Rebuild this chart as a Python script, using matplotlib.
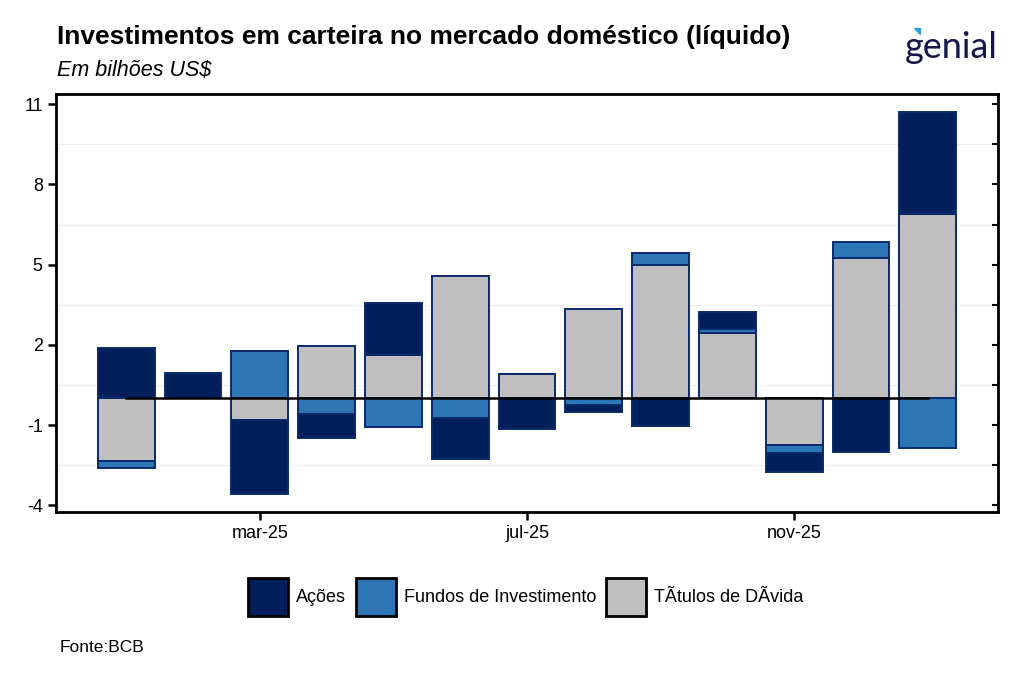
import numpy as np
import matplotlib.pyplot as plt
from matplotlib.patches import Patch, Polygon

# data (US$ bi)
months = ["jan-25", "fev-25", "mar-25", "abr-25", "mai-25", "jun-25", "jul-25",
          "ago-25", "set-25", "out-25", "nov-25", "dez-25", "jan-26"]
acoes = [1.87, 0.95, -2.78, -0.89, 1.97, -1.55, -1.15, -0.25, -1.04, 0.66, -0.74, -2.00, 3.83]
fundos = [-0.25, 0.00, 1.78, -0.60, -1.06, -0.72, 0.00, -0.26, 0.43, 0.15, -0.28, 0.59, -1.86]
titulos = [-2.35, 0.00, -0.81, 1.96, 1.61, 4.58, 0.91, 3.34, 4.99, 2.43, -1.75, 5.26, 6.88]
tick_pos = [2, 6, 10]
tick_labels = ["mar-25", "jul-25", "nov-25"]

series = [("TÃtulos de DÃvida", titulos, "#BFBFBF"),
          ("Fundos de Investimento", fundos, "#2E75B6"),
          ("Ações", acoes, "#001F5B")]
edge = "#0A2A6E"

plt.rcParams['font.family'] = ['Liberation Sans', 'DejaVu Sans']
plt.rcParams['axes.unicode_minus'] = False

fig = plt.figure(figsize=(10.24, 6.82), dpi=100)
ax = fig.add_axes([56 / 1024, 1 - 512 / 682, 942 / 1024, 418 / 682])

x = np.arange(len(months))
pos_base = np.zeros(len(x))
neg_base = np.zeros(len(x))
# stack: titulos closest to zero, then fundos, then acoes
for name, vals, color in series:
    v = np.array(vals)
    base = np.where(v >= 0, pos_base, neg_base)
    ax.bar(x, v, bottom=base, width=0.85, color=color, edgecolor=edge,
           linewidth=1.4, zorder=3)
    pos_base += np.where(v > 0, v, 0)
    neg_base += np.where(v < 0, v, 0)

ax.plot([x[0], x[-1]], [0, 0], color="black", lw=1.8, zorder=4)

ax.set_xlim(-1.05, 13.05)
ax.set_ylim(-4.25, 11.38)
ax.set_yticks([-4, -1, 2, 5, 8, 11])
ax.set_yticks(np.arange(-2.5, 11, 3), minor=True)
ax.grid(axis='y', which='minor', color="#EFEFEF", lw=0.8, zorder=0)
ax.set_xticks(tick_pos)
ax.set_xticklabels(tick_labels)
ax.tick_params(axis='both', labelsize=13, width=1.8, length=6, color="black")
ax.tick_params(axis='y', which='minor', length=0)
for s in ax.spines.values():
    s.set_linewidth(2)

# small ticks inside right border
ax2 = ax.twinx()
ax2.set_ylim(ax.get_ylim())
ax2.set_yticks(np.arange(-4, 11.5, 1.5))
ax2.set_yticklabels([])
ax2.tick_params(axis='y', direction='in', length=4, width=1.5)

handles = [Patch(facecolor=c, edgecolor="black", linewidth=2, label=n)
           for n, _, c in series[::-1]]
fig.legend(handles=handles, loc='center', bbox_to_anchor=(526 / 1024, 1 - 597 / 682),
           ncol=3, frameon=False, fontsize=13, handlelength=2.2, handleheight=2.9,
           columnspacing=0.55, handletextpad=0.45)

fig.text(57 / 1024, 1 - 37 / 682, "Investimentos em carteira no mercado doméstico (líquido)",
         fontsize=19, fontweight='bold', va='center')
fig.text(57 / 1024, 1 - 71 / 682, "Em bilhões US$", fontsize=15.5, style='italic', va='center')
fig.text(60 / 1024, 1 - 648 / 682, "Fonte:BCB", fontsize=12.5, va='center')
fig.text(951 / 1024, 1 - 47 / 682, "genial", fontsize=26, color="#15174A",
         ha='center', va='center', family=['Lato', 'DejaVu Sans'])
fig.patches.append(Polygon([[914 / 1024, 1 - 28 / 682], [920 / 1024, 1 - 28 / 682],
                            [920 / 1024, 1 - 34 / 682]], closed=True,
                           transform=fig.transFigure, color="#2D9CDB"))

fig.savefig("out.png", dpi=100)
